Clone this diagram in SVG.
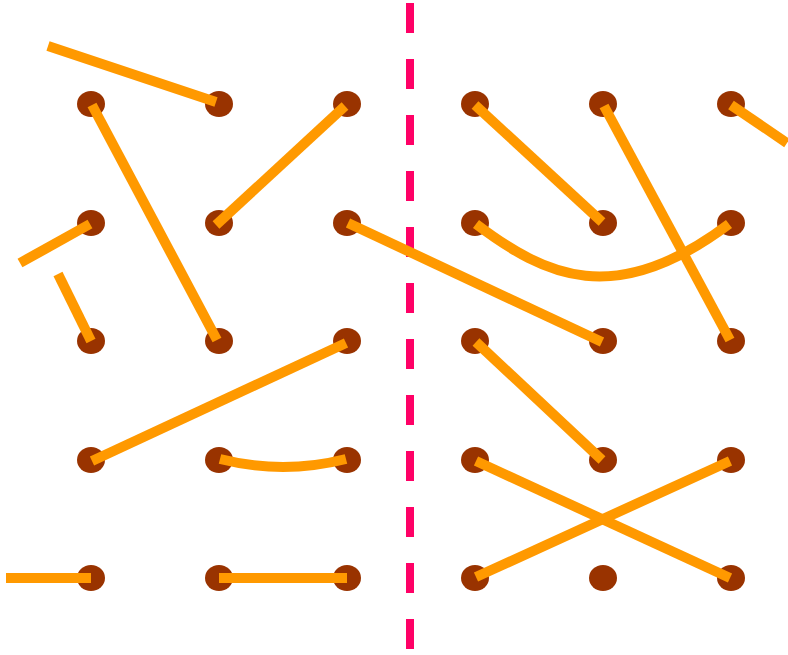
<svg xmlns="http://www.w3.org/2000/svg" width="788" height="655" viewBox="0 0 788 655">
<style>
.dot{fill:#993300}
.ln{stroke:#FF9900;stroke-width:10;fill:none;stroke-linecap:butt}
.div{stroke:#FF0066;stroke-width:8;stroke-dasharray:30 26;fill:none}
</style>
<rect width="788" height="655" fill="#fff"/>
<line class="div" x1="410" y1="3" x2="410" y2="655"/>
<g id="nodes">
<g id="n-r1c1"><ellipse class="dot" cx="91" cy="104" rx="14" ry="13"/></g>
<g id="n-r1c2"><ellipse class="dot" cx="219" cy="104" rx="14" ry="13"/></g>
<g id="n-r1c3"><ellipse class="dot" cx="347" cy="104" rx="14" ry="13"/></g>
<g id="n-r1c4"><ellipse class="dot" cx="475" cy="104" rx="14" ry="13"/></g>
<g id="n-r1c5"><ellipse class="dot" cx="603" cy="104" rx="14" ry="13"/></g>
<g id="n-r1c6"><ellipse class="dot" cx="731" cy="104" rx="14" ry="13"/></g>
<g id="n-r2c1"><ellipse class="dot" cx="91" cy="223" rx="14" ry="13"/></g>
<g id="n-r2c2"><ellipse class="dot" cx="219" cy="223" rx="14" ry="13"/></g>
<g id="n-r2c3"><ellipse class="dot" cx="347" cy="223" rx="14" ry="13"/></g>
<g id="n-r2c4"><ellipse class="dot" cx="475" cy="223" rx="14" ry="13"/></g>
<g id="n-r2c5"><ellipse class="dot" cx="603" cy="223" rx="14" ry="13"/></g>
<g id="n-r2c6"><ellipse class="dot" cx="731" cy="223" rx="14" ry="13"/></g>
<g id="n-r3c1"><ellipse class="dot" cx="91" cy="341" rx="14" ry="13"/></g>
<g id="n-r3c2"><ellipse class="dot" cx="219" cy="341" rx="14" ry="13"/></g>
<g id="n-r3c3"><ellipse class="dot" cx="347" cy="341" rx="14" ry="13"/></g>
<g id="n-r3c4"><ellipse class="dot" cx="475" cy="341" rx="14" ry="13"/></g>
<g id="n-r3c5"><ellipse class="dot" cx="603" cy="341" rx="14" ry="13"/></g>
<g id="n-r3c6"><ellipse class="dot" cx="731" cy="341" rx="14" ry="13"/></g>
<g id="n-r4c1"><ellipse class="dot" cx="91" cy="460" rx="14" ry="13"/></g>
<g id="n-r4c2"><ellipse class="dot" cx="219" cy="460" rx="14" ry="13"/></g>
<g id="n-r4c3"><ellipse class="dot" cx="347" cy="460" rx="14" ry="13"/></g>
<g id="n-r4c4"><ellipse class="dot" cx="475" cy="460" rx="14" ry="13"/></g>
<g id="n-r4c5"><ellipse class="dot" cx="603" cy="460" rx="14" ry="13"/></g>
<g id="n-r4c6"><ellipse class="dot" cx="731" cy="460" rx="14" ry="13"/></g>
<g id="n-r5c1"><ellipse class="dot" cx="91" cy="578" rx="14" ry="13"/></g>
<g id="n-r5c2"><ellipse class="dot" cx="219" cy="578" rx="14" ry="13"/></g>
<g id="n-r5c3"><ellipse class="dot" cx="347" cy="578" rx="14" ry="13"/></g>
<g id="n-r5c4"><ellipse class="dot" cx="475" cy="578" rx="14" ry="13"/></g>
<g id="n-r5c5"><ellipse class="dot" cx="603" cy="578" rx="14" ry="13"/></g>
<g id="n-r5c6"><ellipse class="dot" cx="731" cy="578" rx="14" ry="13"/></g>
</g>
<g id="connectors">
<line class="ln" x1="48" y1="46" x2="216" y2="102"/>
<line class="ln" x1="92" y1="105" x2="217" y2="340"/>
<line class="ln" x1="216" y1="225" x2="345" y2="106"/>
<line class="ln" x1="20" y1="263" x2="90" y2="224"/>
<line class="ln" x1="58" y1="274" x2="91" y2="341"/>
<line class="ln" x1="92" y1="461" x2="346" y2="343"/>
<path class="ln" d="M220,459 Q283,475 346,459"/>
<line class="ln" x1="6" y1="578" x2="91" y2="578"/>
<line class="ln" x1="219" y1="578" x2="347" y2="578"/>
<line class="ln" x1="348" y1="223" x2="602" y2="342"/>
<line class="ln" x1="475" y1="105" x2="602" y2="222"/>
<line class="ln" x1="604" y1="106" x2="730" y2="340"/>
<line class="ln" x1="731" y1="105" x2="787" y2="143"/>
<path class="ln" d="M476,224 C545,276 615,310 729,224"/>
<line class="ln" x1="476" y1="342" x2="602" y2="460"/>
<line class="ln" x1="476" y1="461" x2="730" y2="578"/>
<line class="ln" x1="476" y1="577" x2="730" y2="461"/>
</g>
</svg>
